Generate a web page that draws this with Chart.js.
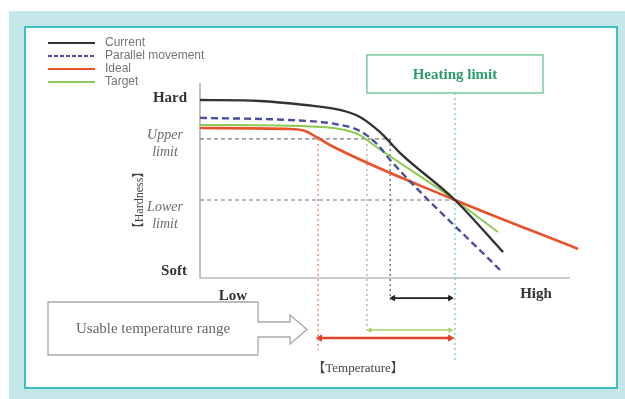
<!DOCTYPE html>
<html>
<head>
<meta charset="utf-8">
<script src="https://cdn.jsdelivr.net/npm/chart.js@4/dist/chart.umd.min.js"></script>
<style>
  html, body { margin: 0; padding: 0; background: #fff; }
  #frame { position: absolute; left: 9px; top: 11px; width: 616px; height: 388px; background: #c6e7e9; }
  #panel { position: absolute; left: 24px; top: 26px; width: 590px; height: 359px; background: #fff; border: 2px solid #3fbec3; }
  #chart { position: absolute; left: 0; top: 0; }
</style>
</head>
<body>
<div id="frame"></div>
<div id="panel"></div>
<canvas id="chart" width="625" height="399"></canvas>
<script>
// Hardness (0 = soft, 100 = hard) against temperature (0 = low, 100 = high)
const seriesNames = ['Current', 'Parallel movement', 'Ideal', 'Target'];

const currentX = [0, 16.2, 28.4, 37.8, 43.2, 48.6, 54.1, 68.9, 81.9];
const currentY = [91.3, 90.8, 88.7, 86.2, 82.6, 74.9, 64.1, 40.0, 13.3];

const parallelX = [0, 24.3, 36.5, 43.2, 48.1, 51.4, 81.1];
const parallelY = [82.1, 81.0, 79.0, 75.4, 68.2, 60.5, 4.1];

const idealX = [0, 24.3, 28.4, 31.9, 35.1, 68.9, 102.2];
const idealY = [76.9, 76.4, 75.4, 71.8, 68.2, 40.0, 14.9];

const targetX = [0, 27.0, 37.8, 43.2, 47.3, 68.9, 80.5];
const targetY = [78.5, 77.9, 76.4, 73.3, 67.7, 40.0, 23.6];

// Axis end labels
const xEndLabels = ['Low', 'High'];
const yEndLabels = ['Hard', 'Soft'];

// Hardness limits and the temperatures where each curve reaches the upper limit
const upperLimit = 71.3;
const lowerLimit = 40.0;
const idealStart = 31.9;
const targetStart = 45.1;
const currentStart = 51.4;
const heatingLimit = 68.9;

// Usable temperature ranges (start, end, row height below the axis)
const currentRange = [52.2, 67.6, -10.3];
const targetRange = [45.9, 67.6, -26.7];
const idealRange = [32.4, 67.6, -30.8];

const pts = (xs, ys) => xs.map((v, i) => ({ x: v, y: ys[i] }));

const colors = {
  current: '#333333',
  parallel: '#4b4f9e',
  ideal: '#e8532b',
  target: '#8dc850',
  guide: '#7a7a7a',
  heat: '#7fcfa6'
};

function curve(label, data, color, dash, width) {
  return {
    label, data, borderColor: color, borderWidth: width, borderDash: dash,
    pointRadius: 0, cubicInterpolationMode: 'monotone', fill: false, clip: false
  };
}
function guide(data, color, dash, width) {
  return {
    label: '', data, borderColor: color, borderWidth: width || 1.2, borderDash: dash,
    pointRadius: 0, tension: 0, fill: false, clip: false
  };
}
function arrow(range, color, width, head) {
  return {
    label: '', data: [{ x: range[0], y: range[2] }, { x: range[1], y: range[2] }],
    borderColor: color, borderWidth: width,
    pointStyle: 'triangle', pointRadius: head, pointRotation: [-90, 90],
    pointBackgroundColor: color, pointBorderColor: color, pointBorderWidth: 1,
    tension: 0, fill: false, clip: false
  };
}

const datasets = [
  curve(seriesNames[0], pts(currentX, currentY), colors.current, [], 2.4),
  curve(seriesNames[1], pts(parallelX, parallelY), colors.parallel, [7, 4], 2.4),
  curve(seriesNames[2], pts(idealX, idealY), colors.ideal, [], 2.6),
  curve(seriesNames[3], pts(targetX, targetY), colors.target, [], 2),
  // limit guides
  guide([{ x: 0, y: upperLimit }, { x: currentStart, y: upperLimit }], colors.guide, [4, 3]),
  guide([{ x: 0, y: lowerLimit }, { x: heatingLimit, y: lowerLimit }], colors.guide, [4, 3]),
  guide([{ x: idealStart, y: upperLimit }, { x: idealStart, y: -36.9 }], '#e8735a', [2, 3]),
  guide([{ x: targetStart, y: upperLimit }, { x: targetStart, y: targetRange[2] }], '#9aa79a', [2, 3]),
  guide([{ x: currentStart, y: upperLimit }, { x: currentStart, y: -11.3 }], '#555', [2, 3]),
  guide([{ x: heatingLimit, y: 94.9 }, { x: heatingLimit, y: -42 }], '#6cc59a', [2, 3]),
  // range arrows
  arrow(currentRange, '#222', 1.6, 3),
  arrow(targetRange, '#a6d46a', 1.6, 2.5),
  arrow(idealRange, '#e0452a', 2.6, 3.5)
];

const decor = {
  id: 'decor',
  beforeDatasetsDraw(chart) {
    const { ctx, scales: { x, y } } = chart;
    ctx.save();
    ctx.strokeStyle = '#9a9a9a';
    ctx.lineWidth = 1.2;
    ctx.beginPath();
    ctx.moveTo(x.getPixelForValue(0), y.getPixelForValue(100));
    ctx.lineTo(x.getPixelForValue(0), y.getPixelForValue(0));
    ctx.lineTo(x.getPixelForValue(100), y.getPixelForValue(0));
    ctx.stroke();
    ctx.restore();
  },
  afterDatasetsDraw(chart) {
    const { ctx, scales: { x, y } } = chart;
    ctx.save();

    // legend
    ctx.font = '12px "Liberation Sans", Arial, sans-serif';
    ctx.textBaseline = 'middle';
    ctx.textAlign = 'left';
    for (let i = 0; i < 4; i++) {
      const ds = chart.data.datasets[i];
      const ly = 43 + i * 13;
      ctx.strokeStyle = ds.borderColor;
      ctx.lineWidth = 2;
      ctx.setLineDash(ds.borderDash.length ? [4, 2] : []);
      ctx.beginPath();
      ctx.moveTo(48, ly);
      ctx.lineTo(95, ly);
      ctx.stroke();
      ctx.setLineDash([]);
      ctx.fillStyle = '#747474';
      ctx.fillText(ds.label, 105, ly);
    }

    // heating limit box
    const bx0 = x.getPixelForValue(45.1), bx1 = x.getPixelForValue(92.7);
    const by0 = y.getPixelForValue(114.4), by1 = y.getPixelForValue(94.9);
    ctx.fillStyle = '#fff';
    ctx.fillRect(bx0, by0, bx1 - bx0, by1 - by0);
    ctx.strokeStyle = colors.heat;
    ctx.lineWidth = 1.6;
    ctx.strokeRect(bx0, by0, bx1 - bx0, by1 - by0);
    ctx.fillStyle = '#2e9b6b';
    ctx.font = 'bold 15px "Liberation Serif", serif';
    ctx.textAlign = 'center';
    ctx.fillText('Heating limit', (bx0 + bx1) / 2, (by0 + by1) / 2 + 1);

    // usable temperature range arrow box
    ctx.strokeStyle = '#a8a8a8';
    ctx.lineWidth = 1.3;
    ctx.beginPath();
    ctx.moveTo(48, 302); ctx.lineTo(258, 302); ctx.lineTo(258, 322);
    ctx.lineTo(290, 322); ctx.lineTo(290, 315); ctx.lineTo(307, 329.5);
    ctx.lineTo(290, 344); ctx.lineTo(290, 337); ctx.lineTo(258, 337);
    ctx.lineTo(258, 355); ctx.lineTo(48, 355); ctx.closePath();
    ctx.stroke();
    ctx.fillStyle = '#666';
    ctx.font = '15px "Liberation Serif", serif';
    ctx.fillText('Usable temperature range', 153, 329);

    // axis end labels
    ctx.fillStyle = '#333';
    ctx.font = 'bold 15px "Liberation Serif", serif';
    ctx.fillText(yEndLabels[0], 170, 98);
    ctx.fillText(yEndLabels[1], 174, 271);
    ctx.fillText(xEndLabels[0], 233, 296);
    ctx.fillText(xEndLabels[1], 536, 294);

    // limit labels
    ctx.fillStyle = '#6a6a6a';
    ctx.font = 'italic 14px "Liberation Serif", serif';
    ctx.fillText('Upper', 165, 135);
    ctx.fillText('limit', 165, 152);
    ctx.fillText('Lower', 165, 207);
    ctx.fillText('limit', 165, 224);

    // axis titles
    ctx.fillStyle = '#444';
    ctx.font = '13px "Liberation Serif", "Noto Sans CJK JP", serif';
    ctx.fillText('【Temperature】', 358, 369);
    ctx.translate(140, 200);
    ctx.rotate(-Math.PI / 2);
    ctx.font = '12px "Liberation Serif", "Noto Sans CJK JP", serif';
    ctx.fillText('【Hardness】', 0, 0);
    ctx.restore();
  }
};

// The value range runs below zero so the range arrows sit inside the plot area;
// the hardness axis itself is drawn from 0 to 100.
new Chart(document.getElementById('chart'), {
  type: 'line',
  data: { datasets },
  options: {
    responsive: false,
    animation: false,
    layout: { padding: { left: 200, right: 55, top: 83, bottom: 33.25 } },
    plugins: { legend: { display: false }, tooltip: { enabled: false } },
    scales: {
      x: { type: 'linear', min: 0, max: 100, display: false },
      y: { type: 'linear', min: -45, max: 100, display: false }
    }
  },
  plugins: [decor]
});
</script>
</body>
</html>
